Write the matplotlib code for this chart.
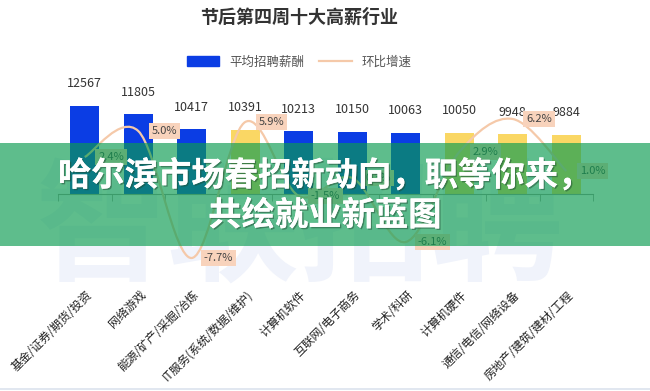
import numpy as np
import matplotlib
matplotlib.use('Agg')
import matplotlib.pyplot as plt
from matplotlib.path import Path
from matplotlib.patches import PathPatch, Rectangle, Patch
from matplotlib.lines import Line2D
import matplotlib.patheffects as pe
from matplotlib.transforms import ScaledTranslation

plt.rcParams['font.family'] = ['Noto Sans CJK SC', 'DejaVu Sans']

# data
industries = ['基金/证券/期货/投资', '网络游戏', '能源/矿产/采掘/冶炼', 'IT服务(系统/数据/维护)',
              '计算机软件', '互联网/电子商务', '学术/科研', '计算机硬件',
              '通信/电信/网络设备', '房地产/建筑/建材/工程']
salary = [12567, 11805, 10417, 10391, 10213, 10150, 10063, 10050, 9948, 9884]
growth = [2.4, 5.0, -7.7, 5.9, -1.5, 0.3, -6.1, 2.9, 6.2, 1.0]
highlight = [False, False, False, True, False, False, False, True, True, True]

blue   = '#0B3DE4'
yellow = '#FAD764'
peach  = '#F5C9A9'

fig = plt.figure(figsize=(6.5, 3.91), dpi=100)
fig.patch.set_facecolor('white')

# faint watermark behind the chart
fig.text(0.46, 1 - 232/391, '智联招聘', ha='center', va='center', fontsize=95,
         fontweight='bold', color='#F0F3FB', zorder=-1)

ax = fig.add_axes([58/650, 1 - 194/391, 535/650, 99/391])
ax.set_facecolor('none')
x = np.arange(len(industries))
bar_colors = [yellow if h else blue for h in highlight]
ax.bar(x, salary, width=0.55, color=bar_colors, zorder=2)
ax.set_ylim(4426, 13584)
ax.set_xlim(-0.5, len(industries) - 0.5)

for xi, v in zip(x, salary):
    ax.annotate(str(v), (xi, v), xytext=(0, 16), textcoords='offset points',
                ha='center', va='center', fontsize=9, color='#333333', annotation_clip=False)

for s in ['top', 'left', 'right']:
    ax.spines[s].set_visible(False)
ax.spines['bottom'].set_color('#9a9a9a')
ax.set_yticks([])
ax.set_xticks(x)
ax.set_xticklabels(industries, rotation=45, ha='right', fontsize=8.5, color='#222222')
ax.tick_params(axis='x', length=0, pad=68)
ax.set_xticks(np.arange(-0.5, len(industries)), minor=True)
ax.tick_params(axis='x', which='minor', length=5, color='#9a9a9a')
for lab in ax.get_xticklabels():
    lab.set_transform(lab.get_transform() + ScaledTranslation(0.1, 0, fig.dpi_scale_trans))

# growth rate, smooth line on a second axis
ax2 = ax.twinx()
ax2.set_ylim(-1.3, 8.6)
ax2.axis('off')
pts = np.column_stack([x, growth]).astype(float)
verts = [pts[0]]
codes = [Path.MOVETO]
n = len(pts)
for i in range(n - 1):
    p0 = pts[max(i - 1, 0)]
    p1 = pts[i]
    p2 = pts[i + 1]
    p3 = pts[min(i + 2, n - 1)]
    c1 = p1 + (p2 - p0) / 6.0
    c2 = p2 - (p3 - p1) / 6.0
    verts += [c1, c2, p2]
    codes += [Path.CURVE4] * 3
curve = PathPatch(Path(verts, codes), fc='none', ec=peach, lw=1.6, clip_on=False, zorder=3)
ax2.add_patch(curve)

for xi, g in zip(x, growth):
    ax2.annotate(f'{g:.1f}%', (xi, g), xytext=(19, 0), textcoords='offset points',
                 ha='center', va='center', fontsize=8, color='#444444', annotation_clip=False,
                 bbox=dict(boxstyle='square,pad=0.25', fc='#F8D3BC', ec='none'), zorder=4)

# title + legend
fig.text(0.46, 1 - 17/391, '节后第四周十大高薪行业', ha='center', va='center',
         fontsize=13, fontweight='bold', color='#333333')
handles = [Patch(color=blue), Line2D([0], [0], color=peach, lw=1.6)]
fig.legend(handles, ['平均招聘薪酬', '环比增速'], loc='center', ncol=2, frameon=False,
           bbox_to_anchor=(0.46, 1 - 62/391), fontsize=9, labelcolor='#555555',
           handlelength=2.6, handleheight=0.9, columnspacing=1.2)

# bottom separator
fig.add_artist(Line2D([0, 1], [1 - 389/391] * 2, color='#DCE3EE', lw=1.2,
                      transform=fig.transFigure))

# green banner with headline
fig.add_artist(Rectangle((0, 1 - 246/391), 1, 103/391, transform=fig.transFigure,
                         fc=(11/255, 156/255, 81/255), alpha=0.66, ec='none', zorder=5))
shadow = [pe.withSimplePatchShadow(offset=(1, -1), shadow_rgbFace='#1f4a33', alpha=0.5), pe.Normal()]
fig.text(0.5, 1 - 176/391, '哈尔滨市场春招新动向，职等你来，', ha='center', va='center',
         fontsize=24, fontweight='bold', color='white', zorder=6, path_effects=shadow)
fig.text(0.5, 1 - 216/391, '共绘就业新蓝图', ha='center', va='center',
         fontsize=24, fontweight='bold', color='white', zorder=6, path_effects=shadow)

fig.savefig('out.png', dpi=100)
